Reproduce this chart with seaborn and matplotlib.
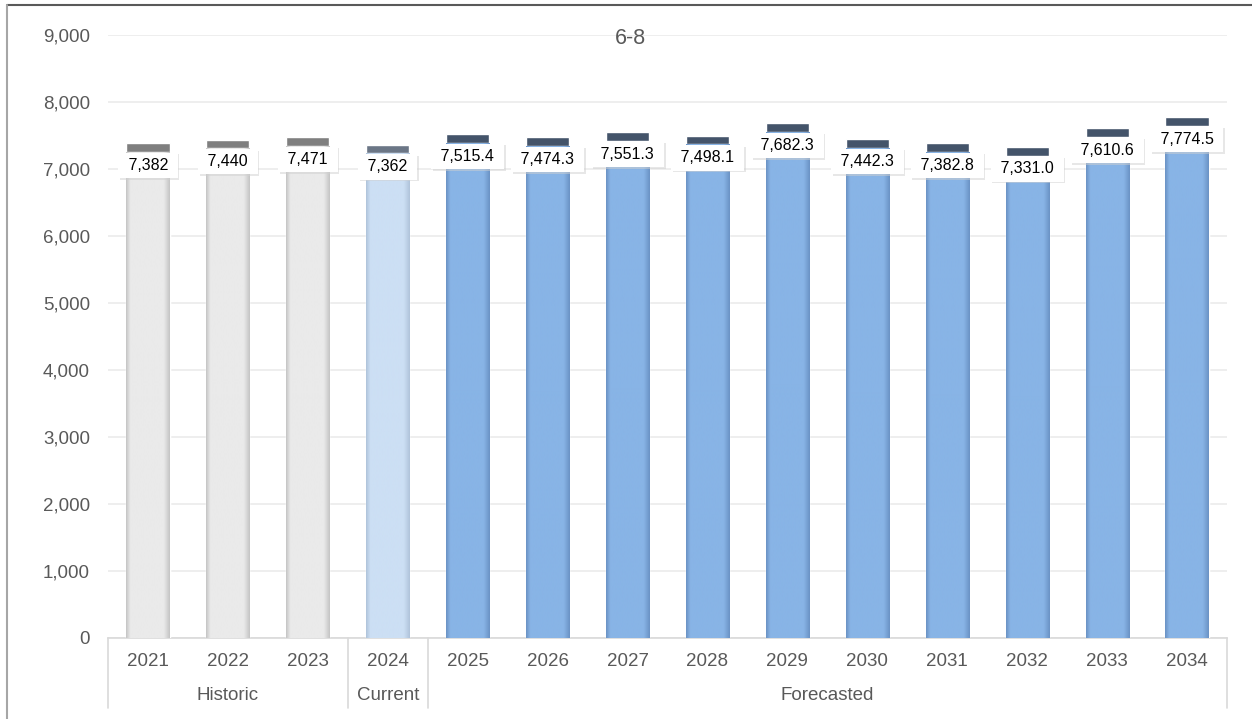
import numpy as np
import pandas as pd
import matplotlib
matplotlib.use("Agg")
import matplotlib.pyplot as plt
import matplotlib.patheffects as pe
from matplotlib.colors import LinearSegmentedColormap
from matplotlib.lines import Line2D
from matplotlib.transforms import blended_transform_factory
import seaborn as sns

# ---- data ----
years = ["2021", "2022", "2023", "2024", "2025", "2026", "2027", "2028",
         "2029", "2030", "2031", "2032", "2033", "2034"]
values = [7382, 7440, 7471, 7362, 7515.4, 7474.3, 7551.3, 7498.1,
          7682.3, 7442.3, 7382.8, 7331.0, 7610.6, 7774.5]
labels = ["7,382", "7,440", "7,471", "7,362", "7,515.4", "7,474.3", "7,551.3",
          "7,498.1", "7,682.3", "7,442.3", "7,382.8", "7,331.0", "7,610.6", "7,774.5"]
groups = ["Historic"] * 3 + ["Current"] + ["Forecasted"] * 10
group_names = ["Historic", "Current", "Forecasted"]
title = "6-8"
yticks = [0, 1000, 2000, 3000, 4000, 5000, 6000, 7000, 8000, 9000]

# ---- style ----
sns.set_style("white")
plt.rcParams["font.family"] = ["Liberation Sans", "DejaVu Sans"]

style = {
    "Historic":   {"cap": "#7F7F7F", "center": "#EAEAEA", "edge": "#C4C4C4"},
    "Current":    {"cap": "#6B7686", "center": "#CCDFF4", "edge": "#AFC3DA"},
    "Forecasted": {"cap": "#44546A", "center": "#88B4E6", "edge": "#6A92C4"},
}
CAP = 130

df = pd.DataFrame({"year": years, "value": values, "group": groups})
df["body"] = df["value"] - CAP

fig = plt.figure(figsize=(12.52, 7.19), dpi=100)
W, H = 1252, 719
ax = fig.add_axes([108 / W, (H - 638) / H, (1227 - 108) / W, (638 - 35) / H])

cap_colors = [style[g]["cap"] for g in groups]
body_colors = [style[g]["center"] for g in groups]

sns.barplot(data=df, x="year", y="value", hue="year", palette=cap_colors,
            legend=False, width=0.54, saturation=1, ax=ax, zorder=2)
n0 = len(ax.patches)
sns.barplot(data=df, x="year", y="body", hue="year", palette=body_colors,
            legend=False, width=0.54, saturation=1, ax=ax, zorder=3)
body_patches = [p for p in ax.patches[n0:] if p.get_height() > 0]

# gradient shading on bar bodies (darker narrow edges)
grad = np.linspace(0, 1, 256).reshape(1, -1)
for p, g in zip(body_patches, groups):
    s = style[g]
    cmap = LinearSegmentedColormap.from_list(
        "b", [(0, s["edge"]), (0.1, s["center"]), (0.86, s["center"]), (1, s["edge"])])
    x0, y0 = p.get_x(), p.get_y()
    im = ax.imshow(grad, cmap=cmap, aspect="auto", zorder=4,
                   extent=[x0, x0 + p.get_width(), y0, y0 + p.get_height()])
    im.set_clip_path(p)
ax.set_xlim(-0.5, len(years) - 0.5)
ax.set_ylim(0, 9000)

# grid and axes styling
ax.set_yticks(yticks)
ax.set_yticklabels([f"{v:,}" for v in yticks])
ax.yaxis.grid(True, color="#EBEBEB", linewidth=1.2, zorder=0)
ax.set_axisbelow(True)
for side in ["top", "right", "left"]:
    ax.spines[side].set_visible(False)
ax.spines["bottom"].set_color("#D9D9D9")
ax.spines["bottom"].set_linewidth(1.2)
ax.tick_params(axis="y", length=0, pad=13, labelsize=13.5, labelcolor="#595959")
ax.tick_params(axis="x", length=0, pad=11, labelsize=13.5, labelcolor="#595959")
ax.set_xlabel("")
ax.set_ylabel("")

# data labels with white boxes
for i, (v, lab) in enumerate(zip(values, labels)):
    t = ax.text(i, v - 330, f" {lab} ", ha="center", va="center", fontsize=11.5,
                color="black", zorder=6,
                bbox=dict(boxstyle="square,pad=0.33", facecolor="white", edgecolor="none"))
    t.get_bbox_patch().set_path_effects(
        [pe.SimplePatchShadow(offset=(1.2, -1.2), shadow_rgbFace="#D0D0D0", alpha=0.5),
         pe.Normal()])

# group labels and separators
tr = blended_transform_factory(ax.transData, ax.transAxes)
ax_h = 638 - 35
bounds = {}
for i, g in enumerate(groups):
    bounds.setdefault(g, [i, i])
    bounds[g][1] = i
seps = [-0.5]
for g in group_names:
    a, b = bounds[g]
    ax.text((a + b) / 2, -(695 - 638) / ax_h, g, transform=tr, ha="center", va="center",
            fontsize=13.5, color="#595959")
    seps.append(b + 0.5)
for s in seps:
    ax.add_line(Line2D([s, s], [0, -(708 - 638) / ax_h], transform=tr, color="#D9D9D9",
                       linewidth=1.2, clip_on=False))

# title
fig.text(630 / W, 1 - 39 / H, title, ha="center", va="center", fontsize=15.5, color="#595959")

# outer frame lines
fig.add_artist(Line2D([7 / W, 1], [1 - 5 / H, 1 - 5 / H], transform=fig.transFigure,
                      color="#595959", linewidth=1.5))
fig.add_artist(Line2D([7 / W, 7 / W], [0, 1 - 5 / H], transform=fig.transFigure,
                      color="#A6A6A6", linewidth=1.5))

fig.savefig("out.png", dpi=100)
